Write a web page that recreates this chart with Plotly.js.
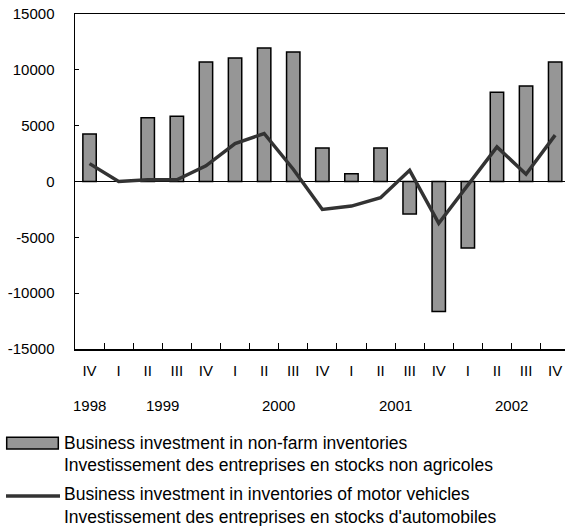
<!DOCTYPE html>
<html>
<head>
<meta charset="utf-8">
<script src="https://cdn.plot.ly/plotly-3.0.1.min.js"></script>
<style>html,body{margin:0;padding:0;background:#fff}#chart{width:565px;height:526px}</style>
</head>
<body>
<div id="chart"></div>
<script>
// Data
const quarters = ['IV','I','II','III','IV','I','II','III','IV','I','II','III','IV','I','II','III','IV'];
const years = ['1998','1999','2000','2001','2002'];
const yearPos = [0, 2.5, 6.5, 10.5, 14.5];
const nonFarm = [4250, null, 5700, 5850, 10700, 11050, 11950, 11600, 3000, 700, 3000, -2900, -11650, -5950, 8000, 8550, 10700];
const motor = [1600, 0, 150, 150, 1400, 3400, 4300, 1100, -2500, -2200, -1450, 1000, -3750, -300, 3100, 650, 4150];
const yTickVals = [-15000, -10000, -5000, 0, 5000, 10000, 15000];
const yTickText = ['-15000', '-10000', '-5000', '0', '5000', '10000', '15000'];
const seriesNames = [
  ['Business investment in non-farm inventories', 'Investissement des entreprises en stocks non agricoles'],
  ['Business investment in inventories of motor vehicles', 'Investissement des entreprises en stocks d\'automobiles']
];

const idx = quarters.map((_, i) => i);
const bounds = quarters.map((_, i) => i - 0.5).concat([quarters.length - 0.5]);
const FONT = 'Liberation Sans, Arial, sans-serif';

const W = 565, H = 526, ML = 75, MT = 14, MB = 177;
const plotW = W - ML, plotH = H - MT - MB;
const catW = 29.1;
const xr = [-0.5, -0.5 + plotW / catW];
const px = v => (v - ML) / plotW;            // pixel x -> paper
const py = v => (H - MB - v) / plotH;        // pixel y -> paper

const traces = [
  {type: 'bar', x: idx, y: nonFarm, width: 0.46,
   marker: {color: '#969696', line: {color: '#000', width: 1.5}},
   showlegend: false, hoverinfo: 'skip'},
  {type: 'scatter', mode: 'lines', x: idx, y: motor,
   line: {color: '#333333', width: 3.5},
   showlegend: false, hoverinfo: 'skip'},
  {type: 'scatter', mode: 'markers', x: [0], y: [null], xaxis: 'x2', yaxis: 'y',
   showlegend: false, hoverinfo: 'skip'}
];

const annotations = years.map((y, i) => ({
  text: y, x: yearPos[i], xref: 'x', y: py(405), yref: 'paper',
  xanchor: 'center', yanchor: 'middle', showarrow: false,
  font: {family: FONT, size: 15, color: '#000'}
}));
const legendY = [[442.7, 465], [494, 516.7]];
seriesNames.forEach((lines, s) => {
  lines.forEach((t, k) => {
    annotations.push({text: t, x: px(62), xref: 'paper', y: py(legendY[s][k]), yref: 'paper',
      xanchor: 'left', yanchor: 'middle', showarrow: false,
      font: {family: FONT, size: 17.5, color: '#000'}});
  });
});

const shapes = [
  {type: 'rect', xref: 'paper', yref: 'paper', x0: px(6.7), x1: px(58.3), y0: py(449), y1: py(437.3),
   fillcolor: '#969696', line: {color: '#000', width: 1.5}},
  {type: 'line', xref: 'paper', yref: 'paper', x0: px(6), x1: px(60), y0: py(496), y1: py(496),
   line: {color: '#333333', width: 3.5}}
];

const layout = {
  width: W, height: H,
  margin: {l: ML, r: 0, t: MT, b: MB, pad: 0},
  paper_bgcolor: '#fff', plot_bgcolor: '#fff',
  showlegend: false,
  xaxis: {
    range: xr, tickmode: 'array', tickvals: idx, ticktext: quarters,
    ticks: '', showgrid: false, zeroline: false,
    showline: true, linecolor: '#000', linewidth: 1.5, mirror: true,
    ticklabelstandoff: 7,
    tickfont: {family: FONT, size: 15, color: '#000'}
  },
  xaxis2: {
    range: xr, overlaying: 'x', anchor: 'y', side: 'bottom',
    tickmode: 'array', tickvals: bounds, showticklabels: false,
    ticks: 'inside', ticklen: 6, tickwidth: 1, tickcolor: '#000',
    showgrid: false, zeroline: false, showline: false
  },
  yaxis: {
    range: [-15000, 15000], tickmode: 'array', tickvals: yTickVals, ticktext: yTickText,
    ticks: 'inside', ticklen: 4, tickwidth: 1, tickcolor: '#000',
    showgrid: false, zeroline: true, zerolinecolor: '#000', zerolinewidth: 1.5,
    showline: true, linecolor: '#000', linewidth: 1.5, mirror: false,
    ticklabelstandoff: 16,
    tickfont: {family: FONT, size: 15, color: '#000'}
  },
  annotations: annotations,
  shapes: shapes
};

Plotly.newPlot('chart', traces, layout, {displayModeBar: false, staticPlot: true});
</script>
</body>
</html>
